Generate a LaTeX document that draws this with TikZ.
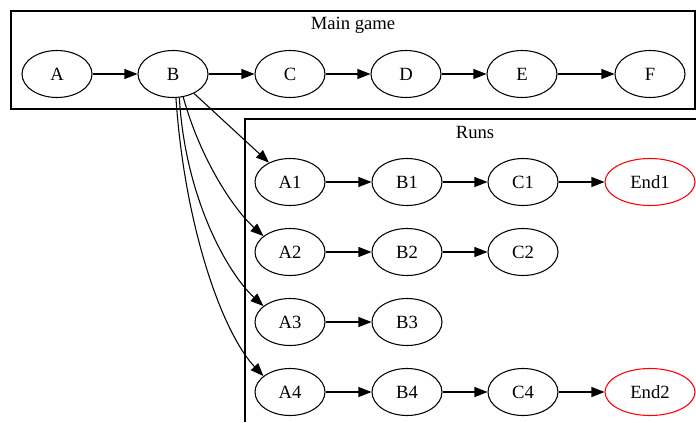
\documentclass[tikz,border=0pt]{standalone}
\usepackage{fontspec}
\setmainfont{Liberation Serif}
\usetikzlibrary{arrows.meta,shapes.geometric}

\begin{document}
\begin{tikzpicture}[x=0.75pt, y=-0.75pt,
    state/.style={draw, ellipse, line width=0.8pt, inner sep=0pt, minimum width=52.5pt, minimum height=35.25pt, font=\fontsize{14}{16}\selectfont},
    endstate/.style={state, draw=red, minimum width=67.5pt},
    arr/.style={line width=0.8pt, -{Triangle[length=9.75pt, width=7.5pt]}},
    boxline/.style={line width=0.8pt},
    title/.style={anchor=base, font=\fontsize{14}{16}\selectfont}]
  \useasboundingbox (0,0) rectangle (696,422);

  % Cluster frames
  \draw[boxline] (11,11) rectangle (695,109);
  \node[title] (maintitle) at (353,29.5) {Main game};
  \draw[boxline] (696,119) -| (245,422);
  \node[title] (runstitle) at (475,138) {Runs};

  % Main game row
  \node[state] (A) at (57,74) {A};
  \node[state] (B) at (173,74) {B};
  \node[state] (C) at (290,74) {C};
  \node[state] (D) at (406,74) {D};
  \node[state] (E) at (522,74) {E};
  \node[state] (F) at (650,74) {F};

  % Run 1
  \node[state] (A1) at (290,182) {A1};
  \node[state] (B1) at (407,182) {B1};
  \node[state] (C1) at (523,182) {C1};
  \node[endstate] (End1) at (650,182) {End1};

  % Run 2
  \node[state] (A2) at (290,252) {A2};
  \node[state] (B2) at (407,252) {B2};
  \node[state] (C2) at (523,252) {C2};

  % Run 3
  \node[state] (A3) at (290,322) {A3};
  \node[state] (B3) at (407,322) {B3};

  % Run 4
  \node[state] (A4) at (290,392) {A4};
  \node[state] (B4) at (407,392) {B4};
  \node[state] (C4) at (523,392) {C4};
  \node[endstate] (End2) at (650,392) {End2};

  % Edges
  \draw[arr] (A) -- (B);
  \draw[arr] (B) -- (C);
  \draw[arr] (C) -- (D);
  \draw[arr] (D) -- (E);
  \draw[arr] (E) -- (F);

  \draw[arr] (A1) -- (B1);
  \draw[arr] (B1) -- (C1);
  \draw[arr] (C1) -- (End1);
  \draw[arr] (A2) -- (B2);
  \draw[arr] (B2) -- (C2);
  \draw[arr] (A3) -- (B3);
  \draw[arr] (A4) -- (B4);
  \draw[arr] (B4) -- (C4);
  \draw[arr] (C4) -- (End2);

  % Fan out from B
  \draw[arr] (B) -- (A1);
  \draw[arr] (B.-66) .. controls +(17,62) and +(-30,-27) .. (A2.149);
  \draw[arr] (B.-75) .. controls +(6,102) and +(-35,-32) .. (A3.149);
  \draw[arr] (B.-83) .. controls +(9,132) and +(-40,-42) .. (A4.149);
\end{tikzpicture}
\end{document}
